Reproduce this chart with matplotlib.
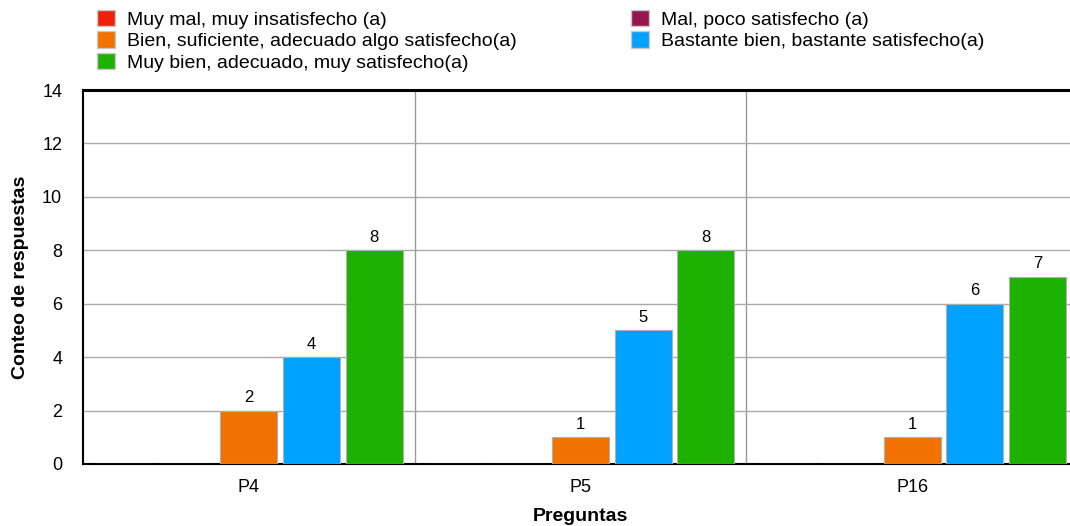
import numpy as np
import matplotlib
matplotlib.use("Agg")
import matplotlib.pyplot as plt
from matplotlib.patches import Patch

plt.rcParams['font.family'] = ['Liberation Sans', 'DejaVu Sans']

preguntas = ['P4', 'P5', 'P16']
muy_mal = [0, 0, 0]
mal = [0, 0, 0]
bien = [2, 1, 1]
bastante_bien = [4, 5, 6]
muy_bien = [8, 8, 7]

series = [
    ('Muy mal, muy insatisfecho (a)', muy_mal, '#EE220C'),
    ('Mal, poco satisfecho (a)', mal, '#961650'),
    ('Bien, suficiente, adecuado algo satisfecho(a)', bien, '#F27200'),
    ('Bastante bien, bastante satisfecho(a)', bastante_bien, '#00A2FF'),
    ('Muy bien, adecuado, muy satisfecho(a)', muy_bien, '#1DB100'),
]

fig = plt.figure(figsize=(10.7, 5.26), dpi=100)
ax = fig.add_axes([83 / 1070, 1 - 464 / 526, (1078 - 83) / 1070, (464 - 90) / 526])

x = np.arange(len(preguntas))
slot = 0.189
width = 0.172
handles = []
for i, (name, vals, color) in enumerate(series):
    pos = x + (i - 2) * slot
    bars = ax.bar(pos, vals, width, color=color, edgecolor='#B0B0B0', linewidth=0.8, zorder=3)
    for b, v in zip(bars, vals):
        if v > 0:
            ax.annotate(str(v), (b.get_x() + b.get_width() / 2, v), xytext=(0, 4),
                        textcoords='offset points', ha='center', va='bottom', fontsize=12)
    handles.append(Patch(facecolor=color, edgecolor='#C8C8C8', label=name))

ax.set_ylim(0, 14)
ax.set_xlim(-0.5, len(preguntas) - 0.5)
ax.set_yticks(range(0, 15, 2))
ax.set_xticks(x)
ax.set_xticklabels(preguntas)
ax.tick_params(length=0, labelsize=13)
ax.tick_params(axis='x', pad=11)
ax.tick_params(axis='y', pad=15)
ax.yaxis.grid(True, color='#AAAAAA', linewidth=1, zorder=0)
for sep in x[:-1] + 0.5:
    ax.axvline(sep, color='#999999', linewidth=1, zorder=1)

for s in ['left', 'bottom']:
    ax.spines[s].set_color('black')
    ax.spines[s].set_linewidth(1.5)
ax.spines['top'].set_color('black')
ax.spines['top'].set_linewidth(2.2)
ax.spines['right'].set_visible(False)

ax.set_ylabel('Conteo de respuestas', fontsize=14, fontweight='bold')
ax.set_xlabel('Preguntas', fontsize=14, fontweight='bold')
ax.yaxis.set_label_coords(-0.054, 0.5)
ax.xaxis.set_label_coords(0.5, -0.118)

# legend: left column red/orange/green, right column purple/blue
order = [0, 2, 4, 1, 3]
fig.legend([handles[i] for i in order], [series[i][0] for i in order],
           ncol=2, loc='upper left', bbox_to_anchor=(91 / 1070, 1 - 4 / 526),
           frameon=False, fontsize=14, handlelength=0.92, handleheight=0.92,
           handletextpad=0.62, labelspacing=0.13, columnspacing=5.9,
           borderaxespad=0, borderpad=0.3)

fig.savefig('out.png', dpi=100)
